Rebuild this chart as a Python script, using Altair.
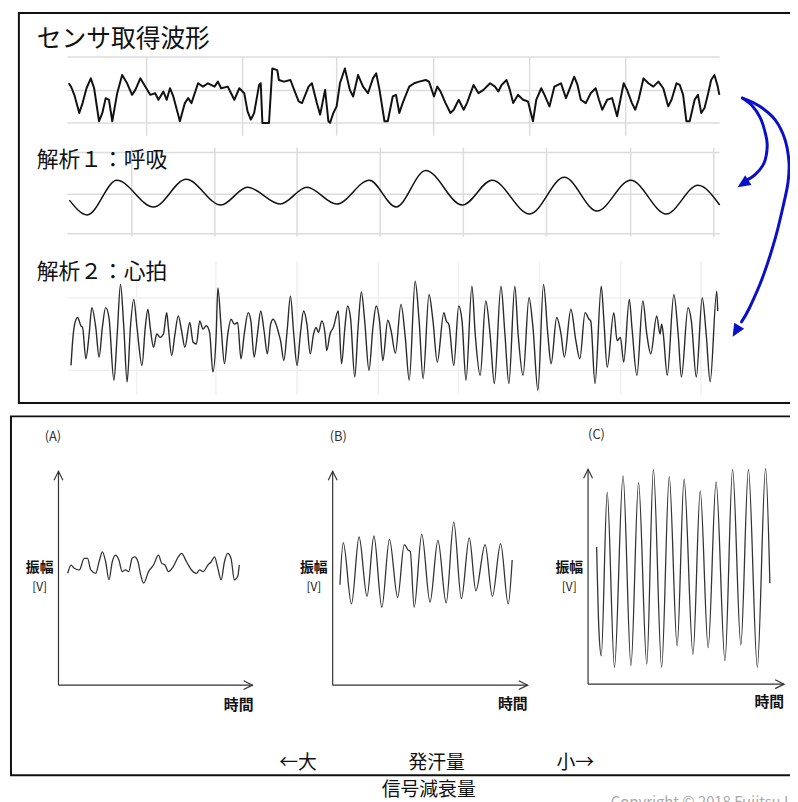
import altair as alt
import pandas as pd

JP = "Noto Sans CJK JP"
BLUE = "#0a10c8"
INK = "#111111"
GREY = "#333333"

# ---------------- data ----------------
# 1) sensor waveform (time in 1/3-px sample units, amplitude in arbitrary units)
sensor_t = [208, 215, 225, 240, 250, 262, 275, 285, 300, 310, 320, 330, 340, 355, 370,
            385, 400, 410, 425, 440, 455, 470, 480, 495, 505, 515, 525, 545, 560, 570,
            580, 600, 615, 630, 650, 660, 670, 690, 700, 710, 725, 740, 750, 760, 770,
            785, 790, 795, 815, 825, 840, 845, 860, 880, 895, 905, 915, 935, 945, 960,
            970, 985, 995, 1000, 1010, 1020, 1030, 1045, 1060, 1070, 1085, 1100, 1115, 1130, 1140,
            1150, 1165, 1175, 1190, 1200,
            1210, 1220, 1240, 1255, 1270, 1290, 1300, 1315, 1325, 1335, 1350, 1365, 1375, 1390, 1405,
            1415, 1435, 1450, 1465, 1485, 1500, 1510, 1520, 1535, 1545, 1555, 1570, 1585, 1600, 1615,
            1625, 1640, 1650, 1665, 1680, 1700, 1715, 1725, 1740, 1750, 1760, 1775, 1790, 1805, 1815,
            1825, 1840, 1855, 1870, 1880, 1890, 1900, 1915, 1925, 1935, 1950, 1965, 1980, 1995, 2010,
            2025, 2035, 2050, 2060, 2070, 2080, 2090, 2105, 2115, 2125, 2135, 2145, 2155, 2165, 2175,
            2180]
sensor_v = [120, 110, 85, 30, 60, 105, 135, 105, 5, 30, 75, 70, 5, 90, 145,
            120, 85, 100, 135, 110, 85, 90, 70, 95, 70, 105, 80, 5, 60, 75,
            60, 120, 110, 120, 110, 125, 105, 110, 90, 70, 105, 90, 35, 10, 30,
            115, 120, 0, 0, 165, 160, 130, 125, 130, 90, 65, 60, 110, 120, 60,
            25, 100, 5, 0, 30, 50, 120, 165, 100, 80, 145, 110, 90, 135, 150,
            100, 5, 5, 80, 85,
            30, 60, 110, 120, 125, 130, 125, 80, 110, 95, 60, 30, 40, 70, 40,
            60, 115, 90, 100, 120, 110, 95, 115, 130, 100, 60, 85, 70, 65, 5,
            70, 105, 85, 50, 110, 120, 75, 100, 140, 115, 70, 60, 90, 105, 70,
            40, 70, 75, 20, 70, 120, 100, 60, 40, 70, 135, 120, 110, 125, 105,
            50, 70, 120, 115, 85, 5, 5, 70, 85, 30, 45, 85, 130, 145, 110,
            85]

# 2) respiration (extrema)
resp_t = [210, 264, 354, 465, 564, 669, 750, 849, 930, 1020, 1119, 1200, 1290, 1401,
          1491, 1605, 1710, 1809, 1911, 2019, 2115, 2181]
resp_v = [-3, -18, 17, -10, 18, -8, 10, -7, 10, -7, 17, -10, 27, -8,
          17, -17, 20, -14, 17, -17, 12, -8]

# 3) heartbeat
heart_t = [215, 220, 225, 235, 245, 250, 260, 270, 278, 290, 300, 310, 320, 330, 345,
           355, 365, 375, 385, 395, 405, 415, 430, 440, 448, 455, 465, 475, 485, 495,
           505, 510, 520, 530, 540, 550, 560, 575, 585, 595, 605, 615, 625, 635, 645,
           655, 660, 670, 680, 690, 700, 710, 720, 730, 740, 752, 760, 770, 780, 790,
           800, 810, 820, 828, 838, 845, 850, 860, 870, 880, 890, 900, 910, 920, 930,
           940, 950, 958, 965, 975, 985, 990, 1000, 1010, 1025, 1035, 1045, 1053, 1062, 1075,
           1085, 1095, 1105, 1118, 1130, 1140, 1150, 1160, 1175, 1185, 1198, 1215, 1228, 1240, 1258,
           1270, 1282, 1300, 1312, 1325, 1345, 1352, 1360, 1375, 1390, 1400, 1412, 1430, 1440, 1455,
           1472, 1485, 1498, 1518, 1530, 1542, 1560, 1570, 1585, 1603, 1615, 1630, 1647, 1660, 1670,
           1687, 1700, 1710, 1730, 1745, 1757, 1773, 1785, 1790, 1803, 1822, 1830, 1840, 1860, 1870,
           1880, 1890, 1907, 1915, 1930, 1948, 1960, 1972, 1990, 2000, 2005, 2010, 2022, 2042, 2055,
           2065, 2085, 2095, 2110, 2128, 2140, 2152, 2172, 2175]
heart_v = [105, 180, 225, 250, 225, 220, 125, 200, 280, 220, 130, 220, 280, 250, 60,
           200, 350, 220, 55, 220, 305, 220, 105, 220, 275, 220, 160, 200, 190, 200,
           265, 220, 135, 200, 255, 210, 160, 235, 175, 170, 240, 215, 225, 205, 85,
           200, 340, 220, 110, 200, 245, 230, 235, 125, 200, 265, 240, 130, 200, 270,
           210, 140, 230, 245, 225, 200, 180, 120, 210, 315, 200, 105, 200, 270, 230,
           140, 200, 220, 205, 240, 200, 150, 200, 220, 270, 110, 220, 285, 250, 70,
           220, 328, 240, 90, 220, 285, 240, 120, 242, 210, 142, 290, 190, 60, 360,
           240, 65, 320, 240, 115, 265, 240, 230, 105, 285, 240, 60, 345, 200, 75,
           300, 200, 50, 345, 200, 50, 345, 200, 75, 310, 220, 30, 350, 200, 110,
           250, 200, 130, 275, 180, 125, 265, 245, 240, 50, 345, 240, 100, 265, 180,
           190, 115, 305, 220, 75, 300, 200, 140, 255, 200, 230, 200, 75, 320, 200,
           70, 280, 240, 70, 310, 200, 55, 330, 270]

# grid positions of the three upper traces
sensor_grid_t = [444, 735, 1020, 1314, 1605, 1896]
sensor_grid_v = [0, 98, 200]
resp_grid_t = [399, 651, 900, 1152, 1404, 1656, 1911, 2163]
resp_grid_v = [45, 3, -37]
heart_grid_t = [414, 654, 900, 1146, 1389, 1635, 1881, 2124]
heart_grid_v = [309, 201, 90]

# 4) lower panels (A) (B) (C): amplitude vs time
a_t = [205, 215, 225, 240, 255, 265, 275, 290, 300, 310, 320, 330, 340, 350, 360,
       370, 380, 390, 400, 408, 418, 425, 435, 450, 465, 480, 490, 500, 510, 525,
       540, 550, 565, 580, 595, 605, 615, 630, 640, 650, 660, 670, 680, 690, 700,
       710, 720, 725]
a_v = [339, 364, 354, 349, 384, 384, 349, 339, 374, 404, 374, 319, 374, 394, 379,
       344, 349, 344, 384, 389, 374, 339, 309, 344, 364, 394, 369, 364, 344, 359,
       389, 399, 374, 349, 339, 349, 344, 364, 374, 389, 354, 319, 374, 399, 384,
       319, 329, 364]
b_t = [1030, 1040, 1065, 1088, 1112, 1133, 1157, 1180, 1205, 1225, 1237, 1243, 1255,
       1278, 1303, 1327, 1352, 1375, 1398, 1422, 1442, 1470, 1492, 1517, 1540, 1552]
b_v = [304, 432, 246, 449, 269, 452, 236, 442, 266, 426, 409, 406, 236,
       457, 252, 439, 249, 494, 262, 446, 286, 426, 269, 429, 246, 379]
c_t = [1808, 1815, 1822, 1840, 1862, 1888, 1912, 1935, 1960, 1980, 2005, 2028, 2052,
       2073, 2100, 2122, 2146, 2170, 2197, 2220, 2245, 2268, 2295, 2320, 2333]
c_v = [419, 164, 89, 584, 54, 634, 59, 614, 64, 654, 54, 632, 119,
       624, 94, 589, 114, 616, 74, 654, 122, 654, 54, 657, 309]

# blue arrows (annotation path, page coordinates)
arrow1_x = [750, 760, 768, 773, 775, 772, 763, 752]
arrow1_y = [95, 103, 115, 130, 143, 160, 172, 179]
arrow2_x = [750, 767, 783, 793, 797, 796, 792, 783, 770, 757, 749]
arrow2_y = [95, 103, 117, 137, 160, 180, 200, 237, 277, 307, 321]
head_x = [745, 740]
head_y = [185, 336]
head_angle = [237, 211]

# ---------------- helpers ----------------
one = pd.DataFrame({"k": [0]})


def sc(dom, rng):
    return alt.Scale(domain=dom, range=rng, nice=False, zero=False)


TOP_X = sc([204, 2184], [60, 720])
SENSOR_Y = sc([0, 165], [112, 57])
RESP_Y = sc([-40, 50], [227, 137])
HEART_Y = sc([0, 420], [392, 252])
BOT_Y = sc([0, 648], [680, 464])
A_X = sc([177, 765], [51, 247])
B_X = sc([1008, 1599], [328, 525])
C_X = sc([1782, 2376], [586, 784])
CAN_X = sc([8, 798], [0, 790])
CAN_Y = sc([8, 802], [0, 794])


def wave(t, v, xs, ys, color, width, interp="linear"):
    df = pd.DataFrame({"t": t, "v": v})
    return alt.Chart(df).mark_line(color=color, strokeWidth=width, interpolate=interp,
                                   strokeJoin="round").encode(
        x=alt.X("t:Q", scale=xs, axis=None),
        y=alt.Y("v:Q", scale=ys, axis=None))


def vgrid(ts, lo, hi, xs, ys, color, w=1.5):
    df = pd.DataFrame({"t": ts, "lo": [lo] * len(ts), "hi": [hi] * len(ts)})
    return alt.Chart(df).mark_rule(color=color, strokeWidth=w).encode(
        x=alt.X("t:Q", scale=xs, axis=None),
        y=alt.Y("lo:Q", scale=ys, axis=None), y2="hi:Q")


def hgrid(vs, lo, hi, xs, ys, color, w=1.5):
    df = pd.DataFrame({"v": vs, "lo": [lo] * len(vs), "hi": [hi] * len(vs)})
    return alt.Chart(df).mark_rule(color=color, strokeWidth=w).encode(
        y=alt.Y("v:Q", scale=ys, axis=None),
        x=alt.X("lo:Q", scale=xs, axis=None), x2="hi:Q")


def label(txt, x, y, size, align="left", weight="normal", color=INK, baseline="middle"):
    return alt.Chart(one).mark_text(text=txt, font=JP, fontSize=size, align=align,
                                    baseline=baseline, fontWeight=weight, color=color).encode(
        x=alt.value(x), y=alt.value(y))


def vline(x, y1, y2, color=GREY, w=1.2):
    return alt.Chart(one).mark_rule(color=color, strokeWidth=w).encode(
        x=alt.value(x), y=alt.value(y1), y2=alt.value(y2))


def hline(y, x1, x2, color=GREY, w=1.2):
    return alt.Chart(one).mark_rule(color=color, strokeWidth=w).encode(
        y=alt.value(y), x=alt.value(x1), x2=alt.value(x2))


def chevron(x, y, angle):
    return alt.Chart(one).mark_point(shape="M-0.5,1L0,0L0.5,1", filled=False, color=GREY,
                                     strokeWidth=1.2, size=324, opacity=1, angle=angle).encode(
        x=alt.value(x), y=alt.value(y))


def box(x1, y1, x2, y2):
    return alt.Chart(one).mark_rect(fillOpacity=0, stroke=INK, strokeWidth=2).encode(
        x=alt.value(x1), x2=alt.value(x2), y=alt.value(y1), y2=alt.value(y2))


layers = []

# frames
layers.append(box(11, 1, 800, 395))
layers.append(box(3, 408.5, 800, 771))

# grids of upper traces
GRID = "#dcdcdc"
layers.append(vgrid(sensor_grid_t, 200, -39, TOP_X, SENSOR_Y, GRID))
layers.append(hgrid(sensor_grid_v, 204, 2181, TOP_X, SENSOR_Y, GRID))
layers.append(vgrid(resp_grid_t, 50, -40, TOP_X, RESP_Y, GRID))
layers.append(hgrid(resp_grid_v, 204, 2181, TOP_X, RESP_Y, GRID))
layers.append(vgrid(heart_grid_t, 420, 15, TOP_X, HEART_Y, "#f0f0f0"))
layers.append(hgrid(heart_grid_v, 204, 2181, TOP_X, HEART_Y, "#f0f0f0"))

# upper traces
layers.append(wave(sensor_t, sensor_v, TOP_X, SENSOR_Y, INK, 2.0))
layers.append(wave(resp_t, resp_v, TOP_X, RESP_Y, INK, 1.5, "monotone"))
layers.append(wave(heart_t, heart_v, TOP_X, HEART_Y, "#2a2a2a", 1.4, "monotone"))

# upper labels
layers.append(label("センサ取得波形", 29, 27, 25))
layers.append(label("解析１：呼吸", 29, 150, 22))
layers.append(label("解析２：心拍", 29, 263, 22))

# blue arrows
for ax, ay in ((arrow1_x, arrow1_y), (arrow2_x, arrow2_y)):
    adf = pd.DataFrame({"i": list(range(len(ax))), "px": ax, "py": ay})
    layers.append(alt.Chart(adf).mark_line(color=BLUE, strokeWidth=3, interpolate="cardinal",
                                           strokeCap="round").encode(
        x=alt.X("px:Q", scale=CAN_X, axis=None),
        y=alt.Y("py:Q", scale=CAN_Y, axis=None),
        order="i:Q"))
hdf = pd.DataFrame({"px": head_x, "py": head_y, "ang": head_angle})
layers.append(alt.Chart(hdf).mark_point(shape="M0,0L0.45,1L-0.45,1Z", filled=True, color=BLUE,
                                        size=676, opacity=1).encode(
    x=alt.X("px:Q", scale=CAN_X, axis=None),
    y=alt.Y("py:Q", scale=CAN_Y, axis=None),
    angle=alt.Angle("ang:Q", scale=None)))

# lower panels: axes
for ox, top, oy, right in ((51, 464, 680, 247), (328, 464, 680, 525), (586, 462, 679, 784)):
    layers.append(vline(ox, top, oy))
    layers.append(hline(oy, ox, right))
    layers.append(chevron(ox, top, 0))
    layers.append(chevron(right, oy, 90))

# lower panels: waves
layers.append(wave(a_t, a_v, A_X, BOT_Y, GREY, 1.3, "monotone"))
layers.append(wave(b_t, b_v, B_X, BOT_Y, GREY, 1.3, "monotone"))
layers.append(wave(c_t, c_v, C_X, BOT_Y, GREY, 1.3, "monotone"))

# lower panel labels
for name, x, y in (("(A)", 37, 429), ("(B)", 325, 429), ("(C)", 586, 427)):
    layers.append(label(name, x, y, 13, color=GREY))
for cx in (32, 309, 567):
    layers.append(label("振幅", cx, 562, 14, align="center", weight="bold"))
    layers.append(label("[V]", cx, 581, 12, align="center"))
for cx, cy in ((233, 700), (510, 699), (769, 697)):
    layers.append(label("時間", cx, cy, 15, align="center", weight="bold"))

layers.append(label("←大", 293, 759, 19, align="center"))
layers.append(label("発汗量", 433, 759, 19, align="center"))
layers.append(label("小→", 573, 759, 19, align="center"))
layers.append(label("信号減衰量", 425, 786, 19, align="center"))
layers.append(label("Copyright © 2018 Fujitsu Laboratories Ltd.", 609, 791, 15,
                    color="#aaaaaa", baseline="top"))

chart = alt.layer(*layers).resolve_scale(x="independent", y="independent").properties(
    width=790, height=794, padding=0,
    autosize=alt.AutoSizeParams(type="none"), background="white"
).configure_view(strokeWidth=0)

chart.save("out.html", embed_options={"renderer": "svg", "actions": False})
